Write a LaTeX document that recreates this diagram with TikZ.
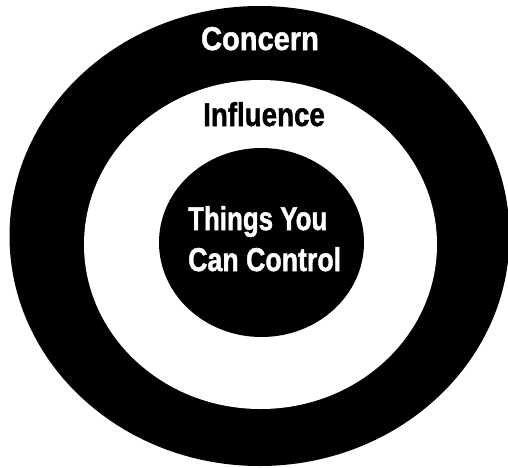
\documentclass[tikz,border=0pt]{standalone}
\usepackage{fontspec}
\newfontfamily\impfont[FakeBold=1.5]{Liberation Sans}
\usetikzlibrary{shapes.geometric}
\begin{document}
\begin{tikzpicture}[x=1pt,y=-1pt,
  ring/.style={ellipse, inner sep=0pt, draw=none},
  lbl/.style={font=\impfont\bfseries\fontsize{33}{40}\selectfont, inner sep=0pt, anchor=base}]
\useasboundingbox (0,0) rectangle (508,467);
\node[ring, fill=black, minimum width=500pt, minimum height=460pt] (concern) at (259.5,236) {};
\node[ring, fill=white, minimum width=353pt, minimum height=329pt] (influence) at (260.5,244.5) {};
\node[ring, fill=black, minimum width=205pt, minimum height=189pt] (control) at (261.5,242.5) {};
\node[lbl, text=white] (tconcern) at (260,50) {\scalebox{0.88}[1]{Concern}};
\node[lbl, text=black] (tinfluence) at (264,126) {\scalebox{0.84}[1]{Influence}};
\node[lbl, text=white, anchor=base west] (tthings) at (188,230) {\scalebox{0.785}[1]{Things You}};
\node[lbl, text=white, anchor=base west] (tcan) at (188,271) {\scalebox{0.81}[1]{Can Control}};
\end{tikzpicture}
\end{document}
